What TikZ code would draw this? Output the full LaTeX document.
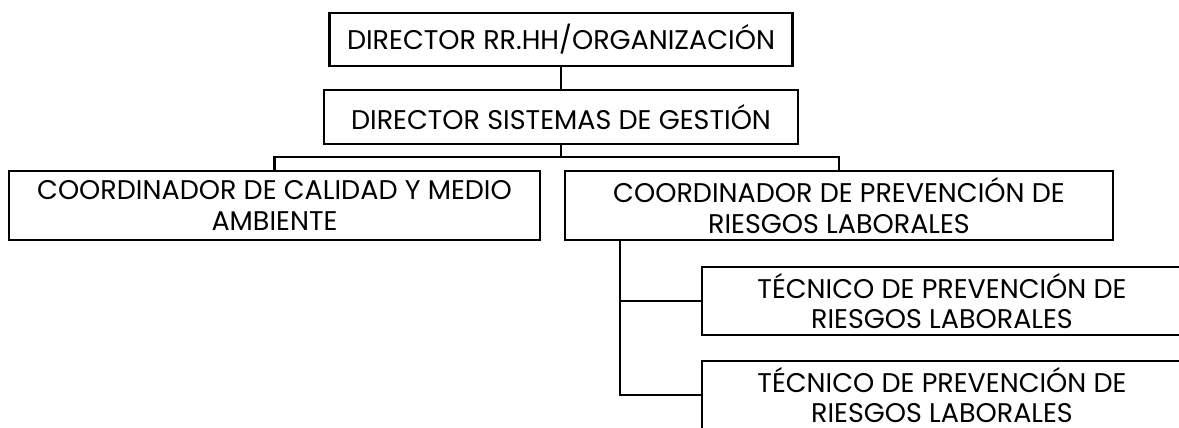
\documentclass[tikz,border=0pt]{standalone}
\usepackage{fontspec}
\setmainfont{Poppins}
\begin{document}
\begin{tikzpicture}[x=1pt,y=-1pt,
  box/.style={draw=black, line width=2.8pt, inner sep=0pt, align=center,
    font=\fontsize{27}{30.5}\selectfont},
  link/.style={draw=black, line width=2.8pt}]
\useasboundingbox (0,0) rectangle (1179,428);
\clip (0,0) rectangle (1179,428);
\fill[white] (0,0) rectangle (1179,428);
\node[box, minimum width=463pt, minimum height=53pt] (dir) at (561,39.5) {DIRECTOR RR.HH/ORGANIZACIÓN};
\node[box, minimum width=474pt, minimum height=54pt] (sis) at (561,117) {DIRECTOR SISTEMAS DE GESTIÓN};
\node[box, minimum width=531pt, minimum height=69pt] (cal) at (274.5,205.5) {COORDINADOR DE CALIDAD Y MEDIO\\AMBIENTE};
\node[box, minimum width=548pt, minimum height=69pt] (prl) at (839,205.5) {COORDINADOR DE PREVENCIÓN DE\\RIESGOS LABORALES};
\node[box, minimum width=480pt, minimum height=68pt] (tec1) at (942,301) {TÉCNICO DE PREVENCIÓN DE\\RIESGOS LABORALES};
\node[box, minimum width=480pt, minimum height=68pt] (tec2) at (942,395) {TÉCNICO DE PREVENCIÓN DE\\RIESGOS LABORALES};
\coordinate (bus) at (561,157);
\coordinate (trunk) at (620,240);
\draw[link] (dir.south) -- (dir.south |- sis.north);
\draw[link] (sis.south) -- (sis.south |- bus);
\draw[link] (cal.north) -- (cal.north |- bus) -- (prl.north |- bus) -- (prl.north);
\draw[link] (prl.south -| trunk) -- (trunk |- tec2.west) -- (tec2.west);
\draw[link] (trunk |- tec1.west) -- (tec1.west);
\end{tikzpicture}
\end{document}
